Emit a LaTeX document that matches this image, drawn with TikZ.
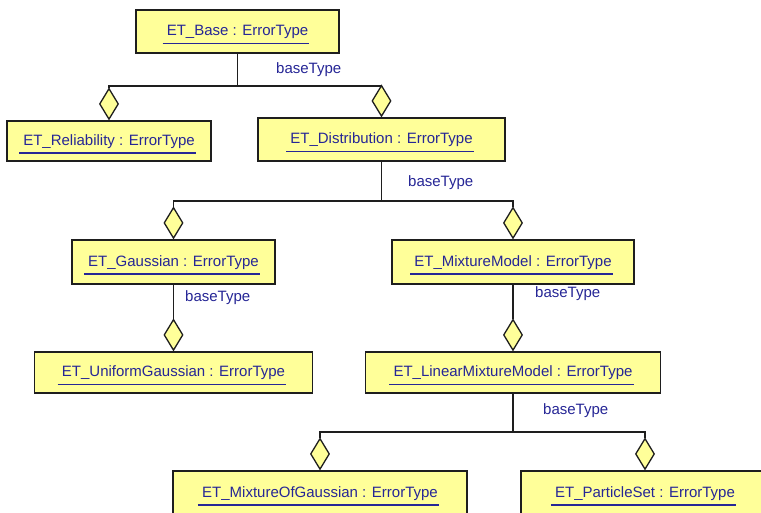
\documentclass[tikz,border=0pt]{standalone}
\usepackage{fontspec}
\setmainfont{Liberation Sans}
\usetikzlibrary{shapes.geometric}
\definecolor{boxfill}{RGB}{255,255,153}
\definecolor{txtblue}{RGB}{38,38,150}
\definecolor{edge}{RGB}{30,30,30}
\newcommand\umlcls[6]{%
  \node[umlbox, minimum width=#4pt, minimum height=#5pt] (#1) at (#2,#3) {};
  \node[lbl] (#1t) at ([yshift=-4pt]#1.center) {#6};
  \draw[ul] ([xshift=-4pt,yshift=-8pt]#1t.base west) -- ([xshift=1pt,yshift=-8pt]#1t.base east);
}
\begin{document}
\begin{tikzpicture}[x=1pt,y=-1pt,
  umlbox/.style={draw=edge, line width=1.9pt, fill=boxfill, inner sep=0pt},
  lbl/.style={font=\fontsize{15}{18}\selectfont, text=txtblue, inner sep=0pt, anchor=base},
  ul/.style={draw=txtblue, line width=1.8pt},
  agg/.style={diamond, draw=edge, line width=1.3pt, fill=boxfill, inner sep=0pt, minimum width=19pt, minimum height=31pt, anchor=south},
  conn/.style={draw=edge, line width=1.4pt},
  role/.style={font=\fontsize{15}{18}\selectfont, text=txtblue, inner sep=0pt, anchor=base west}]
\fill[white] (0,0) rectangle (761,512);
\useasboundingbox (0,0) rectangle (761,512);

\umlcls{base}{237.5}{31.5}{203}{43}{ET\_Base : ErrorType}
\umlcls{rel}{109}{141}{204}{40}{ET\_Reliability : ErrorType}
\umlcls{dist}{381.5}{139.5}{247}{43}{ET\_Distribution : ErrorType}
\umlcls{gauss}{173.5}{262}{203}{44}{ET\_Gaussian : ErrorType}
\umlcls{unif}{173.5}{372.5}{278}{41}{ET\_UniformGaussian : ErrorType}
\umlcls{mix}{513}{262}{242}{44}{ET\_MixtureModel : ErrorType}
\umlcls{lin}{513}{372.5}{295}{41}{ET\_LinearMixtureModel : ErrorType}
\umlcls{mog}{320}{493}{294}{44}{ET\_MixtureOfGaussian : ErrorType}
\umlcls{ps}{645}{493}{248}{44}{ET\_ParticleSet : ErrorType}

\node[agg] (drel) at (rel.north) {};
\node[agg] (ddist) at (dist.north) {};
\node[agg] (dgauss) at (gauss.north) {};
\node[agg] (dmix) at (mix.north) {};
\node[agg] (dunif) at (unif.north) {};
\node[agg] (dlin) at (lin.north) {};
\node[agg] (dmog) at (mog.north) {};
\node[agg] (dps) at (ps.north) {};

\coordinate (j1) at (237.5,86);
\coordinate (j2) at (381.5,201);
\coordinate (j3) at (513,432);

\draw[conn] (base.south) -- (j1);
\draw[conn] (j1) -| (drel.north);
\draw[conn] (j1) -| (ddist.north);
\draw[conn] (dist.south) -- (j2);
\draw[conn] (j2) -| (dgauss.north);
\draw[conn] (j2) -| (dmix.north);
\draw[conn] (gauss.south) -- (dunif.north);
\draw[conn] (mix.south) -- (dlin.north);
\draw[conn] (lin.south) -- (j3);
\draw[conn] (j3) -| (dmog.north);
\draw[conn] (j3) -| (dps.north);

\node[role] (r1) at (276,73) {baseType};
\node[role] (r2) at (408,186) {baseType};
\node[role] (r3) at (185,301) {baseType};
\node[role] (r4) at (535,297) {baseType};
\node[role] (r5) at (543,414) {baseType};
\end{tikzpicture}
\end{document}
